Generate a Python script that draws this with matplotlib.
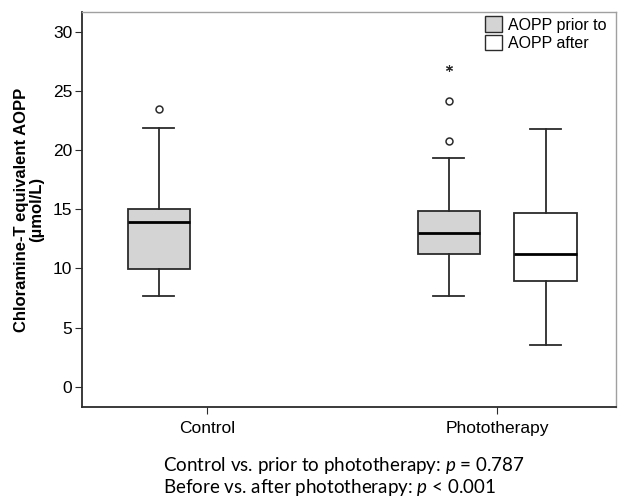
import numpy as np
import matplotlib
matplotlib.use("Agg")
import matplotlib.pyplot as plt
from matplotlib.patches import Patch

# box summary values (umol/L)
groups = ["Control", "Phototherapy"]
box_labels = ["Control prior", "Photo prior", "Photo after"]
box_group = [0, 1, 1]
box_offset = [-1, -1, 1]
whislo = [7.7, 7.65, 3.56]
q1 = [9.92, 11.21, 8.98]
med = [13.9, 12.97, 11.19]
q3 = [15.03, 14.89, 14.66]
whishi = [21.86, 19.35, 21.84]
fliers = [[23.53], [20.82, 24.21], []]
extremes = [[], [26.92], []]
box_fill = ["#d4d4d4", "#d4d4d4", "white"]

legend_labels = ["AOPP prior to", "AOPP after"]
yticks = [0, 5, 10, 15, 20, 25, 30]

plt.rcParams['font.family'] = ['Liberation Sans', 'DejaVu Sans']
plt.rcParams['mathtext.fontset'] = 'custom'
plt.rcParams['mathtext.rm'] = 'Lato'
plt.rcParams['mathtext.it'] = 'Lato:italic'

fig = plt.figure(figsize=(6.18, 5.0), dpi=100)
ax = fig.add_axes([82/618, 93/500, 534/618, 395/500])

dx = 0.167
pos = [box_group[i] + box_offset[i]*dx for i in range(3)]
stats = []
for i in range(3):
    stats.append(dict(label=box_labels[i], whislo=whislo[i], q1=q1[i], med=med[i],
                      q3=q3[i], whishi=whishi[i], fliers=fliers[i]))

ec = "#2b2b2b"
bp = ax.bxp(stats, positions=pos, widths=0.214, patch_artist=True, capwidths=0.105,
            boxprops=dict(edgecolor=ec, linewidth=1.3),
            whiskerprops=dict(color=ec, linewidth=1.3),
            capprops=dict(color=ec, linewidth=1.3),
            medianprops=dict(color="black", linewidth=2),
            flierprops=dict(marker='o', markersize=5, markerfacecolor='none',
                            markeredgecolor=ec, markeredgewidth=1.1))
for b, c in zip(bp['boxes'], box_fill):
    b.set_facecolor(c)

for i in range(3):
    if extremes[i]:
        ax.plot([pos[i]]*len(extremes[i]), extremes[i], linestyle='none', marker=(6, 2, 0),
                markersize=5, color=ec, markeredgewidth=0.8)

ax.set_xlim(-0.431, 1.41)
ax.set_ylim(-1.72, 31.7)
ax.set_xticks([0, 1])
ax.set_xticklabels(groups, fontsize=12.5)
ax.set_yticks(yticks)
ax.tick_params(axis='y', labelsize=12.5, length=5, color=ec, pad=2)
ax.tick_params(axis='x', length=5, color=ec, pad=5)
ax.set_ylabel("Chloramine-T equivalent AOPP\n(\u00b5mol/L)", fontsize=12, fontweight='bold',
              linespacing=1.0, labelpad=6)

for s in ['left', 'bottom']:
    ax.spines[s].set_color(ec)
    ax.spines[s].set_linewidth(1.3)
for s in ['top', 'right']:
    ax.spines[s].set_color("#a0a0a0")
    ax.spines[s].set_linewidth(1.0)

handles = [Patch(facecolor=box_fill[0], edgecolor=ec), Patch(facecolor="white", edgecolor=ec)]
ax.legend(handles, legend_labels, loc='upper right', bbox_to_anchor=(1.01, 1.025), frameon=False,
          fontsize=11.5, handlelength=1.1, handleheight=1.1, handletextpad=0.4, labelspacing=0.15)

fig.text(163/618, 1 - 466/500, "Control vs. prior to phototherapy: $\\mathit{p}$ = 0.787",
         family='Lato', fontsize=13.5, va='center', ha='left', color='black')
fig.text(163/618, 1 - 488/500, "Before vs. after phototherapy: $\\mathit{p}$ < 0.001",
         family='Lato', fontsize=13.5, va='center', ha='left', color='black')

fig.savefig("out.png", dpi=100)
